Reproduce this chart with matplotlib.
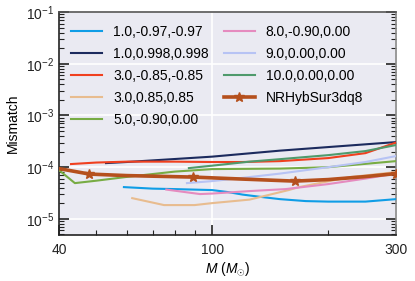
import matplotlib
matplotlib.use("Agg")
import matplotlib.pyplot as plt
import matplotlib.ticker as mticker
import numpy as np

plt.rcParams['font.family'] = ['Liberation Sans', 'DejaVu Sans']
plt.rcParams['mathtext.fontset'] = 'custom'
plt.rcParams['mathtext.rm'] = 'Liberation Sans'
plt.rcParams['mathtext.it'] = 'Liberation Sans:italic'

# ---- data ----
labels = ["1.0,-0.97,-0.97", "1.0,0.998,0.998", "3.0,-0.85,-0.85", "3.0,0.85,0.85",
          "5.0,-0.90,0.00", "8.0,-0.90,0.00", "9.0,0.00,0.00", "10.0,0.00,0.00"]
colors = ["#0f9de6", "#1c2b5e", "#f0401f", "#e8bc8f", "#78ac44", "#e58bbf", "#b7c3f4", "#4f9a6c"]

m_q1_neg = [59, 70, 80, 100, 110, 120, 135, 150, 175, 200, 250, 300]
v_q1_neg = [4.12e-5, 3.85e-5, 3.77e-5, 3.61e-5, 3.3e-5, 2.95e-5, 2.64e-5, 2.41e-5, 2.21e-5, 2.16e-5, 2.16e-5, 2.41e-5]

m_q1_pos = [53, 60, 80, 100, 150, 200, 300]
v_q1_pos = [1.20e-4, 1.26e-4, 1.44e-4, 1.60e-4, 2.09e-4, 2.45e-4, 3.06e-4]

m_q3_neg = [43, 50, 60, 80, 100, 120, 150, 200, 250, 300]
v_q3_neg = [1.15e-4, 1.23e-4, 1.28e-4, 1.28e-4, 1.26e-4, 1.26e-4, 1.31e-4, 1.50e-4, 1.87e-4, 2.99e-4]

m_q3_pos = [62, 75, 90, 100, 125, 158, 168, 228, 300]
v_q3_pos = [2.52e-5, 1.85e-5, 1.85e-5, 2.02e-5, 2.36e-5, 3.61e-5, 4.12e-5, 6.44e-5, 8.04e-5]

m_q5 = [40, 44, 50, 60, 80, 100, 150, 200, 300]
v_q5 = [8.79e-5, 4.92e-5, 5.48e-5, 6.49e-5, 8.22e-5, 9.19e-5, 9.40e-5, 1.00e-4, 1.31e-4]

m_q8 = [76, 93, 100, 125, 155, 200, 250, 300]
v_q8 = [3.69e-5, 3.02e-5, 3.09e-5, 3.45e-5, 3.77e-5, 4.71e-5, 6.02e-5, 7.52e-5]

m_q9 = [86, 100, 125, 150, 200, 250, 300]
v_q9 = [4.92e-5, 5.38e-5, 6.44e-5, 7.52e-5, 1.00e-4, 1.26e-4, 1.64e-4]

m_q10 = [87, 100, 125, 150, 200, 250, 300]
v_q10 = [9.61e-5, 1.07e-4, 1.28e-4, 1.43e-4, 1.71e-4, 2.05e-4, 2.68e-4]

m_sur = [40, 48, 60, 89, 120, 164, 200, 250, 300]
v_sur = [9.40e-5, 7.36e-5, 6.88e-5, 6.44e-5, 5.89e-5, 5.38e-5, 5.76e-5, 6.58e-5, 7.52e-5]
sur_marker_idx = [1, 3, 5, 8]
sur_label = "NRHybSur3dq8"

series_m = [m_q1_neg, m_q1_pos, m_q3_neg, m_q3_pos, m_q5, m_q8, m_q9, m_q10]
series_v = [v_q1_neg, v_q1_pos, v_q3_neg, v_q3_pos, v_q5, v_q8, v_q9, v_q10]

xticks = [40, 100, 300]

# ---- figure ----
fig = plt.figure(figsize=(4.15, 2.81), dpi=100)
ax = fig.add_axes([0.142, 0.164, 0.812, 0.793])
ax.set_facecolor("#EAEAF2")

for m, v, c, l in zip(series_m, series_v, colors, labels):
    ax.plot(m, v, color=c, lw=1.5, label=l, zorder=3)
ax.plot(m_sur, v_sur, color="#b5501d", lw=2.6, marker="*", ms=7,
        markevery=sur_marker_idx, label=sur_label, zorder=4)

ax.set_xscale("log")
ax.set_yscale("log")
ax.set_xlim(40, 300)
ax.set_ylim(4.9e-6, 1e-1)

ax.set_xticks(xticks)
ax.xaxis.set_major_formatter(mticker.FixedFormatter([str(t) for t in xticks]))
ax.xaxis.set_minor_locator(mticker.FixedLocator([50, 60, 70, 80, 90, 200]))
ax.xaxis.set_minor_formatter(mticker.NullFormatter())
ax.yaxis.set_major_locator(mticker.LogLocator(base=10, numticks=10))
ax.yaxis.set_minor_locator(mticker.LogLocator(base=10, subs=np.arange(2, 10), numticks=20))

ax.grid(True, which="major", color="white", lw=1.2, zorder=0)
ax.set_axisbelow(True)

ax.tick_params(which="both", direction="in", left=True, right=True, bottom=True, top=False,
               labelsize=10, colors="#222222")
ax.tick_params(which="major", length=7, width=1.2)
ax.tick_params(axis="x", which="major", pad=6)
ax.tick_params(which="minor", length=3.5, width=0.8)

for side, col in [("left", "#222222"), ("bottom", "#222222"), ("top", "#555555"), ("right", "#888888")]:
    ax.spines[side].set_color(col)
    ax.spines[side].set_linewidth(1.2)

ax.set_xlabel(r"$M$ ($M_{\odot}$)", fontsize=10, labelpad=2)
ax.set_ylabel("Mismatch", fontsize=10, labelpad=4)

ax.legend(ncol=2, loc="upper left", frameon=False, fontsize=10, handlelength=2.2,
          columnspacing=1.1, labelspacing=0.58)

fig.savefig("out.png", dpi=100)
